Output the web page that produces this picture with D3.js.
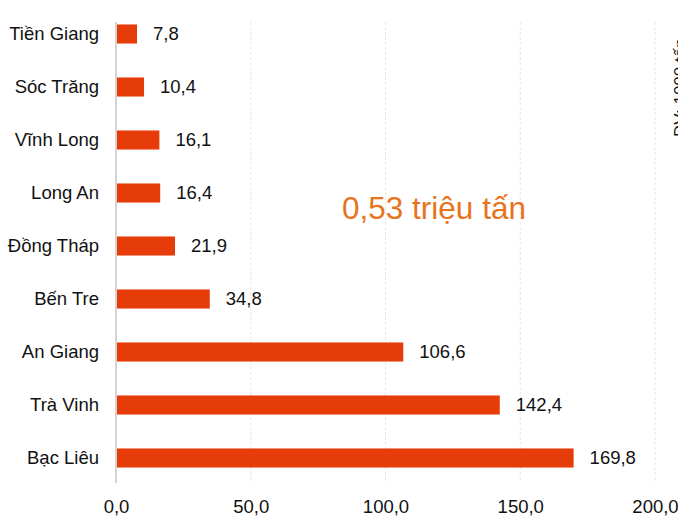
<!DOCTYPE html>
<html><head><meta charset="utf-8">
<script src="https://cdn.jsdelivr.net/npm/d3@7"></script>
<style>body{margin:0;background:#fff;}svg{display:block;font-family:Arial,"Liberation Sans",sans-serif;}</style>
</head><body><svg id="c" width="678" height="517"></svg>
<script>
const categories = ["Tiền Giang","Sóc Trăng","Vĩnh Long","Long An","Đồng Tháp","Bến Tre","An Giang","Trà Vinh","Bạc Liêu"];
const values = [7.8,10.4,16.1,16.4,21.9,34.8,106.6,142.4,169.8];
const xTicks = [0,50,100,150,200];
const totalLabel = "0,53 triệu tấn";
const unitLabel = "ĐV: 1000 tấn";

const svg = d3.select("#c");
const x = d3.scaleLinear().domain([0,200]).range([116,655]);
const y = d3.scaleBand().domain(categories).range([7.5,484.5]).paddingInner(0.64).paddingOuter(0.32);
const fmt = v => d3.format(".1f")(v).replace(".", ",");

// gridlines
svg.append("g").selectAll("line").data(xTicks.slice(1)).join("line")
  .attr("x1", d=>x(d)).attr("x2", d=>x(d)).attr("y1", 22).attr("y2", 483)
  .attr("stroke", "#e6e6e6").attr("stroke-width", 1).attr("stroke-dasharray","3,2");
// baseline
svg.append("line").attr("x1", x(0)).attr("x2", x(0)).attr("y1", 22).attr("y2", 483)
  .attr("stroke", "#d4d4d4").attr("stroke-width", 2);

// bars
svg.append("g").selectAll("rect").data(values).join("rect")
  .attr("x", x(0)+1).attr("y", (d,i)=>y(categories[i]))
  .attr("width", d=>x(d)-x(0)-1).attr("height", y.bandwidth())
  .attr("fill", "#e63c0a");

// value labels
svg.append("g").selectAll("text").data(values).join("text")
  .attr("x", d=>x(d)+16).attr("y", (d,i)=>y(categories[i])+y.bandwidth()/2)
  .attr("dy","0.35em").attr("font-size", 18.5).attr("fill","#111")
  .text(d=>fmt(d));

// category axis labels
svg.append("g").selectAll("text").data(categories).join("text")
  .attr("x", 99).attr("y", d=>y(d)+y.bandwidth()/2)
  .attr("dy","0.35em").attr("text-anchor","end").attr("font-size", 18.5).attr("fill","#111")
  .text(d=>d);

// x axis tick labels
const xa = svg.append("g").attr("transform","translate(0,483)")
  .call(d3.axisBottom(x).tickValues(xTicks).tickSize(0).tickPadding(17).tickFormat(fmt));
xa.select(".domain").remove();
xa.selectAll("text").attr("font-size",18.5).attr("fill","#111").attr("font-family","Arial,'Liberation Sans',sans-serif");

// total annotation
svg.append("text").attr("x", 434).attr("y", 219).attr("text-anchor","middle")
  .attr("font-size", 31.5).attr("fill","#e8731c").text(totalLabel);

// unit label (rotated, clipped at right edge as in the source)
svg.append("text").attr("transform","translate(686,137) rotate(-90)")
  .attr("font-size", 17).attr("fill","#111").text(unitLabel);
</script>
</body></html>
